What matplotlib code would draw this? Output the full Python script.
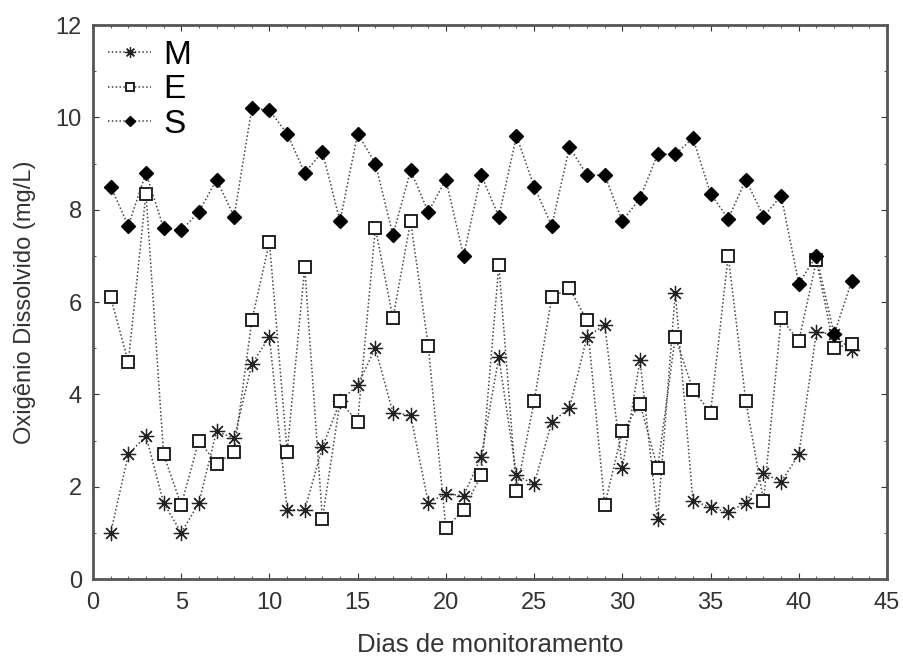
import numpy as np
import matplotlib
matplotlib.use("Agg")
import matplotlib.pyplot as plt
from matplotlib.ticker import MultipleLocator

plt.rcParams["font.family"] = ["Liberation Sans", "DejaVu Sans"]

# data
dias = np.arange(1, 44)

m_vals = [1.0, 2.7, 3.1, 1.65, 1.0, 1.65, 3.2, 3.05, 4.65, 5.25,
          1.5, 1.5, 2.85, 3.85, 4.2, 5.0, 3.6, 3.55, 1.65, 1.85,
          1.8, 2.65, 4.8, 2.25, 2.05, 3.4, 3.7, 5.25, 5.5, 2.4,
          4.75, 1.3, 6.2, 1.7, 1.55, 1.45, 1.65, 2.3, 2.1, 2.7,
          5.35, 5.3, 4.95]

e_vals = [6.1, 4.7, 8.35, 2.7, 1.6, 3.0, 2.5, 2.75, 5.6, 7.3,
          2.75, 6.75, 1.3, 3.85, 3.4, 7.6, 5.65, 7.75, 5.05, 1.1,
          1.5, 2.25, 6.8, 1.9, 3.85, 6.1, 6.3, 5.6, 1.6, 3.2,
          3.8, 2.4, 5.25, 4.1, 3.6, 7.0, 3.85, 1.7, 5.65, 5.15,
          6.9, 5.0, 5.1]

s_vals = [8.5, 7.65, 8.8, 7.6, 7.55, 7.95, 8.65, 7.85, 10.2, 10.15,
          9.65, 8.8, 9.25, 7.75, 9.65, 9.0, 7.45, 8.85, 7.95, 8.65,
          7.0, 8.75, 7.85, 9.6, 8.5, 7.65, 9.35, 8.75, 8.75, 7.75,
          8.25, 9.2, 9.2, 9.55, 8.35, 7.8, 8.65, 7.85, 8.3, 6.4,
          7.0, 5.3, 6.45]

fig = plt.figure(figsize=(9.04, 6.6), dpi=100)
ax = fig.add_axes([0.1029, 0.1227, 0.8783, 0.8394])

line_kw = dict(linestyle=(0, (1, 1.5)), linewidth=1.1, color="#444444")

ax.plot(dias, m_vals, marker=(8, 2, 0), markersize=11, markeredgewidth=0.9,
        markeredgecolor="#222222", label="M", **line_kw)
ax.plot(dias, e_vals, marker="s", markersize=8, markerfacecolor="white",
        markeredgecolor="#111111", markeredgewidth=1.3, label="E", **line_kw)
ax.plot(dias, s_vals, marker="D", markersize=7.5, markerfacecolor="black",
        markeredgecolor="black", label="S", **line_kw)

ax.set_xlim(0, 45)
ax.set_ylim(0, 12)
ax.xaxis.set_major_locator(MultipleLocator(5))
ax.xaxis.set_minor_locator(MultipleLocator(1))
ax.yaxis.set_major_locator(MultipleLocator(2))
ax.yaxis.set_minor_locator(MultipleLocator(1))
ax.tick_params(which="both", direction="in", top=True, right=True,
               color="#333333", labelsize=17, labelcolor="#333333")
ax.tick_params(axis="x", which="major", pad=9)
ax.tick_params(axis="y", which="major", pad=8)
ax.tick_params(which="major", length=4)
ax.tick_params(which="minor", length=2.5)

for sp in ax.spines.values():
    sp.set_linewidth(2)
    sp.set_color("#555555")

ax.set_xlabel("Dias de monitoramento", fontsize=18.5, color="#333333", labelpad=14)
ax.set_ylabel("Oxigênio Dissolvido (mg/L)", fontsize=17, color="#333333", labelpad=14)

leg = ax.legend(loc="upper left", frameon=False, fontsize=24, handlelength=1.3,
                handletextpad=0.35, labelspacing=0.1, borderaxespad=0.05,
                markerscale=0.7)

plt.savefig("out.png", dpi=100)
